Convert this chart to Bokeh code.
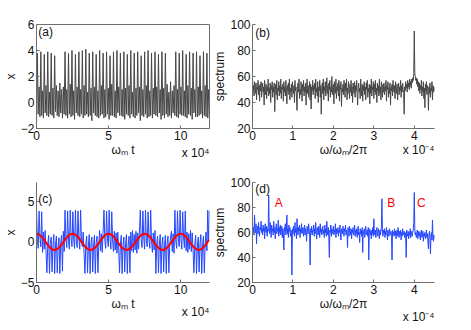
import numpy as np
from bokeh.plotting import figure
from bokeh.models import Range1d, Label, FixedTicker, Title
from bokeh.layouts import column, row
from bokeh.embed import file_html
from bokeh.resources import INLINE

# ---------------- data ----------------
# (a) time trace x(t), samples every 600 (omega_m t)
x_a = [-1.7,
       3.8, -0.9, 1.2, -1.1, 3.9, -1.0, 0.9, -1.2,
       3.7, -0.8, 1.3, -1.0, 3.9, -1.1, 0.8, -0.9,
       3.8, -1.0, 1.1, -1.2, 3.6, -0.7,
       1.3, -1.0, 0.9, -1.1, 1.5, -0.8, 1.0, -1.2, 1.2, -0.9,
       3.9, -1.0, 1.0, -1.2, 3.8, -0.9, 1.4, -1.1,
       4.0, -1.0, 0.9, -1.3, 3.7, -0.8, 1.2, -1.0,
       3.9, -1.1, 1.0, -0.9, 4.0, -1.2, 1.3, -1.0,
       4.1, -0.9, 0.8, -1.1, 3.8, -1.0, 1.1, -1.4,
       3.9, -0.8, 1.2, -1.0, 3.7, -1.1, 0.9, -1.2,
       4.0, -1.0, 1.3, -0.9, 3.8, -1.2, 1.0, -1.1,
       3.9, -0.9, 1.1, -1.3, 3.6, -1.0, 1.4, -1.0,
       3.9, -1.1, 0.9, -1.2, 4.0, -0.8, 1.2, -1.0,
       3.8, -1.0, 1.0, -1.1, 3.9, -1.3, 1.1, -0.9,
       3.7, -1.0, 1.3, -1.2, 4.0, -0.9, 0.8, -1.1,
       3.8, -1.2, 1.1, -1.0, 3.9, -0.8, 1.2, -1.4,
       3.6, -1.0, 1.0, -1.1, 3.9, -0.9, 1.3, -1.2,
       4.0, -1.1, 0.9, -1.0, 3.8, -1.2, 1.1, -0.9,
       3.9, -1.0, 1.2, -1.1, 3.7, -0.8, 1.0, -1.3,
       3.9, -1.0, 1.1, -1.2, 3.8,
       -0.9, 1.4, -1.1, 0.8, -1.0, 1.6, -1.2, 0.9, -0.8, 1.3, -1.0,
       3.9, -1.1, 1.0, -1.2, 3.8, -0.9, 1.2, -1.0,
       4.0, -1.0, 0.9, -1.1, 3.7, -1.2, 1.3, -0.9,
       3.9, -1.0, 1.1, -1.3, 3.8, -0.8, 1.0, -1.1,
       3.9, -1.1, 1.2, -1.0, 3.6, -0.9, 0.9, -1.2,
       3.9, -1.0, 1.3, -1.1, 3.8, -1.2, 1.0, -0.9]

# (c) driven time trace x(t), samples every 600
x_c = [3.9, 0.3, -0.8, 3.8, 0.5, -0.6, 3.7,
       -1.3, 1.2, -0.9, 1.4, -1.1,
       -3.8, -0.4, 0.8, -3.9, -0.2, 0.6, -3.7, -0.5, 0.9, -3.9, -0.3, 0.7, -3.8, -0.6, 0.5, -3.9, -0.1, 0.8, -3.6,
       1.3, -1.2,
       3.9, 0.4, -0.7, 3.8, 0.2, -0.9, 3.9, 0.5, -0.6, 3.7, 0.3, -0.8, 3.9, 0.1, -0.7, 3.8, 0.4, -0.9, 3.9, 0.2, -0.6,
       1.2, -1.4,
       -3.9, -0.3, 0.7, -3.8, -0.5, 0.9, -3.9, -0.2, 0.6, -3.7, -0.4, 0.8, -3.9, -0.1, 0.7, -3.8, -0.5,
       1.4, -1.1, 1.0, -1.3, 1.2,
       3.9, 0.2, -0.8, 3.8, 0.4, -0.6, 3.9, 0.3, -0.9, 3.7, 0.1,
       -1.2, 1.3, -1.0, 1.1, -1.4, 1.2, -0.9,
       -3.8, -0.3, 0.8, -3.9, -0.5, 0.6, -3.7, -0.2, 0.9, -3.9, -0.4, 0.7, -3.8,
       1.2, -1.1, 1.4, -1.3, 0.9, -1.0, 1.3, -1.4, 1.1, -0.9, 1.2,
       3.9, 0.3, -0.7, 3.8, 0.5, -0.9, 3.9, 0.2, -0.6, 3.7, 0.4, -0.8, 3.9, 0.1,
       -1.3, 1.1, -1.0, 1.4,
       -3.9, -0.2, 0.7, -3.8, -0.4, 0.9, -3.9, -0.3, 0.6, -3.7, -0.5, 0.8, -3.9, -0.1, 0.7, -3.8, -0.4, 0.6,
       1.3, -1.2, 1.0, -1.4,
       3.9, 0.2, -0.8, 3.8, 0.4, -0.6, 3.9, 0.3, -0.9, 3.7, 0.5, -0.7, 3.8,
       -1.1, 1.2, -1.3, 1.0, -0.9, 1.4, -1.2, 1.1, -1.0,
       -3.8, -0.3, 0.8, -3.9, -0.5, 0.6, -3.7, -0.2, 0.9, -3.9, -0.4, 0.7, -3.8, -0.3,
       1.2, -1.1,
       3.9, 0.3, 3.8]

# (c) red drive signal, samples every 1250
drive_c = [1.00, 0.95, 0.81, 0.59, 0.31, 0.00, -0.31, -0.59, -0.81, -0.95,
           -1.00, -0.95, -0.81, -0.59, -0.31, 0.00, 0.31, 0.59, 0.81, 0.95,
           1.00, 0.95, 0.81, 0.59, 0.31, 0.00, -0.31, -0.59, -0.81, -0.95,
           -1.00, -0.95, -0.81, -0.59, -0.31, 0.00, 0.31, 0.59, 0.81, 0.95,
           1.00, 0.95, 0.81, 0.59, 0.31, 0.00, -0.31, -0.59, -0.81, -0.95,
           -1.00, -0.95, -0.81, -0.59, -0.31, 0.00, 0.31, 0.59, 0.81, 0.95,
           1.00, 0.95, 0.81, 0.59, 0.31, 0.00, -0.31, -0.59, -0.81, -0.95,
           -1.00, -0.95, -0.81, -0.59, -0.31, 0.00, 0.31, 0.59, 0.81, 0.95,
           1.00, 0.95, 0.81, 0.59, 0.31, 0.00, -0.31, -0.59, -0.81, -0.95,
           -1.00, -0.95, -0.81, -0.59, -0.31, 0.00, 0.31]

# (b) spectrum of (a), samples every 0.0125e-4
spec_b = [58, 49, 53, 45, 56, 51, 47, 55, 42, 52, 50, 57, 46, 53, 41, 54, 49, 56, 44, 51,
          55, 48, 52, 38, 57, 50, 46, 54, 43, 52, 49, 58, 45, 51, 47, 55, 40, 53, 50, 56,
          44, 52, 48, 55, 33, 50, 54, 46, 57, 42, 51, 49, 56, 45, 53, 47, 58, 43, 52, 50,
          54, 41, 56, 48, 52, 45, 57, 50, 39, 53, 49, 55, 46, 58, 42, 51, 48, 54, 44, 56,
          50, 47, 53, 40, 57, 49, 52, 45, 34, 51, 55, 48, 58, 43, 50, 46, 56, 52, 41, 54,
          49, 57, 45, 52, 48, 55, 38, 51, 58, 47, 53, 44, 50, 56, 42, 54, 35, 52, 49, 57,
          46, 53, 50, 55, 43, 58, 48, 51, 45, 56, 40, 52, 49, 57, 44, 53, 31, 50, 55, 47,
          58, 42, 52, 49, 56, 45, 51, 59, 47, 53, 41, 55, 50, 57, 44, 52, 48, 60, 46, 51,
          54, 39, 56, 50, 47, 58, 43, 52, 49, 55, 45, 57, 41, 53, 50, 56, 37, 51, 48, 54,
          46, 57, 52, 44, 55, 49, 58, 42, 51, 47, 56, 50, 43, 54, 48, 57, 45, 52, 40, 55,
          50, 47, 56, 44, 53, 49, 57, 46, 38, 52, 55, 48, 51, 43, 58, 50, 45, 54, 41, 53,
          49, 56, 46, 52, 42, 55, 50, 57, 44, 51, 48, 54, 39, 53, 47, 58, 45, 52, 50, 56,
          43, 54, 48, 57, 46, 51, 40, 55, 49, 53, 45, 58, 47, 52, 42, 56, 50, 44, 54, 48,
          55, 46, 52, 49, 57, 41, 53, 50, 56, 44, 51, 47, 55, 38, 52, 49, 54, 45, 57, 50,
          48, 53, 43, 56, 50, 47, 54, 42, 51, 55, 46, 52, 49, 57, 44, 53, 48, 55, 50, 47,
          31, 52, 49, 56, 51, 54, 48, 57, 52, 55, 50, 58, 53, 56, 51, 58, 55, 59, 57, 62,
          95, 63, 60, 57, 59, 54, 58, 52, 56, 49, 55, 47, 53, 50, 57, 45, 52, 48, 56, 43,
          51, 36, 54, 49, 56, 46, 53, 50, 34, 52, 47, 55, 44, 51, 49, 56, 42, 53, 48, 52,
          49]

# (d) spectrum of (c), samples every 0.0125e-4
spec_d = [66, 61, 64, 58, 74, 63, 60, 67, 51, 62, 65, 59, 68, 61, 57, 64, 62, 69, 60, 63,
          58, 66, 61, 64, 55, 67, 62, 60, 65, 57, 63, 61, 90, 64, 59, 68, 62, 56, 66, 61,
          63, 58, 69, 60, 64, 55, 62, 67, 59, 63, 61, 70, 57, 64, 60, 66, 58, 62, 65, 56,
          63, 60, 46, 64, 61, 67, 58, 62, 74, 59, 63, 56, 66, 61, 64, 57, 62, 60, 26, 63,
          59, 65, 61, 57, 68, 60, 63, 55, 71, 62, 58, 64, 61, 66, 56, 63, 60, 67, 59, 62,
          64, 57, 61, 66, 58, 63, 60, 53, 65, 61, 59, 67, 62, 57, 34, 63, 60, 65, 58, 62,
          61, 66, 57, 63, 59, 68, 60, 55, 64, 61, 58, 65, 62, 56, 67, 60, 63, 58, 61, 65,
          59, 62, 56, 66, 60, 63, 57, 69, 61, 58, 64, 55, 40, 62, 60, 66, 57, 63, 59, 61,
          65, 58, 62, 60, 67, 56, 63, 59, 61, 64, 57, 62, 60, 66, 58, 54, 63, 61, 59, 65,
          60, 57, 63, 61, 66, 58, 62, 59, 48, 64, 60, 57, 65, 61, 58, 63, 55, 62, 60, 64,
          58, 61, 66, 57, 62, 59, 63, 56, 61, 65, 58, 60, 52, 63, 59, 62, 57, 64, 44, 61,
          59, 63, 56, 61, 65, 58, 60, 62, 57, 64, 38, 60, 63, 58, 61, 55, 62, 59, 64, 57,
          71, 60, 58, 62, 56, 61, 64, 59, 57, 63, 60, 55, 62, 58, 61, 64, 87, 60, 57, 62,
          59, 63, 56, 61, 58, 64, 60, 54, 62, 59, 57, 63, 60, 58, 61, 56, 38, 62, 59, 60,
          57, 63, 58, 61, 55, 60, 62, 57, 64, 59, 56, 61, 58, 62, 54, 60, 57, 63, 59, 58,
          61, 56, 60, 58, 40, 62, 57, 59, 61, 55, 60, 58, 63, 56, 59, 61, 57, 60, 62, 68,
          92, 64, 58, 60, 56, 59, 62, 55, 58, 61, 57, 60, 54, 59, 62, 56, 58, 61, 53, 59,
          57, 60, 55, 58, 62, 56, 59, 52, 47, 58, 61, 55, 43, 57, 60, 54, 70, 56, 53, 58,
          55]

t_a = np.arange(len(x_a)) * 600.0
t_c = np.arange(len(x_c)) * 600.0
t_drive = np.arange(len(drive_c)) * 1250.0
f_b = np.arange(len(spec_b)) * 0.0125e-4
f_d = np.arange(len(spec_d)) * 0.0125e-4

time_ticks = [0, 5e4, 10e4]
time_tick_labels = ["0", "5", "10"]
freq_ticks = [0, 1e-4, 2e-4, 3e-4, 4e-4]
freq_tick_labels = ["0", "1", "2", "3", "4"]
ya_ticks = [-2, 0, 2, 4, 6]
ya_tick_labels = ["\u22122", "0", "2", "4", "6"]
yc_ticks = [-5, 0, 5]
yc_tick_labels = ["\u22125", "0", "5"]
spec_ticks = [20, 40, 60, 80, 100]
spec_tick_labels = ["20", "40", "60", "80", "100"]

FONT = "Liberation Sans"
AXC = "#6e6e6e"
GRAY = "#474747"
BLUE = "#2446ff"
RED = "#ff0000"


def make_fig(w, h, xr, yr, bl, br, bt, bb, outline):
    p = figure(width=w, height=h, x_range=Range1d(*xr), y_range=Range1d(*yr),
               output_backend="svg", toolbar_location=None,
               min_border_left=bl, min_border_right=br,
               min_border_top=bt, min_border_bottom=bb)
    p.grid.visible = False
    p.background_fill_color = "white"
    p.border_fill_color = "white"
    p.outline_line_color = AXC if outline else None
    return p


def style_axes(p, xt, xtl, xlab, yt, ytl, ylab):
    p.xaxis.ticker = FixedTicker(ticks=xt)
    p.xaxis.major_label_overrides = {float(k): v for k, v in zip(xt, xtl)}
    p.yaxis.ticker = FixedTicker(ticks=yt)
    p.yaxis.major_label_overrides = {float(k): v for k, v in zip(yt, ytl)}
    p.xaxis.axis_label = xlab
    p.yaxis.axis_label = ylab
    for ax in list(p.xaxis) + list(p.yaxis):
        ax.axis_line_color = AXC
        ax.major_tick_line_color = AXC
        ax.major_tick_in = 3
        ax.major_tick_out = 0
        ax.minor_tick_line_color = None
        ax.major_label_text_font = FONT
        ax.major_label_text_font_size = "12px"
        ax.major_label_text_color = "#111111"
        ax.axis_label_text_font = FONT
        ax.axis_label_text_font_size = "12px"
        ax.axis_label_text_font_style = "normal"
        ax.axis_label_text_color = "#111111"
        ax.major_label_standoff = 2
        ax.axis_label_standoff = 0


def add_label(p, text, x, y, align="left", color="#111111", base="middle"):
    p.add_layout(Label(x=x, y=y, text=text,
                       text_font=FONT, text_font_size="12px", text_color=color,
                       text_align=align, text_baseline=base))


def add_multiplier(p, text, standoff):
    p.add_layout(Title(text=text, align="right", vertical_align="top",
                       standoff=standoff,
                       text_font=FONT, text_font_size="12px",
                       text_font_style="normal", text_color="#111111"), "below")


# (a)
pa = make_fig(210, 165, (0, 12e4), (-2, 6), 29, 1, 24, 37, True)
pa.line(t_a, x_a, line_color=GRAY, line_width=1)
style_axes(pa, time_ticks, time_tick_labels, "\u03c9\u2098 t", ya_ticks, ya_tick_labels, "x")
add_label(pa, "(a)", 0.12e4, 5.4)
add_multiplier(pa, "x 10\u2074", -28)

# (b)
pb = make_fig(230, 165, (0, 4.5e-4), (20, 100), 39, 6, 23, 37, False)
pb.line(f_b, spec_b, line_color=GRAY, line_width=1)
style_axes(pb, freq_ticks, freq_tick_labels, "\u03c9/\u03c9\u2098/2\u03c0", spec_ticks, spec_tick_labels, "spectrum")
add_label(pb, "(b)", 0.07e-4, 93.8)
add_multiplier(pb, "x 10\u207b\u2074", -34)

# (c)
pc = make_fig(210, 157, (0, 12e4), (-5, 7.3), 29, 1, 6, 40, False)
pc.line(t_c, x_c, line_color=BLUE, line_width=1)
pc.line(t_drive, drive_c, line_color=RED, line_width=2)
style_axes(pc, time_ticks, time_tick_labels, "\u03c9\u2098 t", yc_ticks, yc_tick_labels, "x")
add_label(pc, "(c)", 0.12e4, 5.3)
add_multiplier(pc, "x 10\u2074", -18)

# (d)
pd_ = make_fig(230, 157, (0, 4.5e-4), (20, 100), 39, 6, 17, 36, False)
pd_.line(f_d, spec_d, line_color=BLUE, line_width=1)
style_axes(pd_, freq_ticks, freq_tick_labels, "\u03c9/\u03c9\u2098/2\u03c0", spec_ticks, spec_tick_labels, "spectrum")
add_label(pd_, "(d)", 0.07e-4, 94.6)
add_label(pd_, "A", 0.55e-4, 84, color=RED)
add_label(pd_, "B", 3.33e-4, 84, color=RED)
add_label(pd_, "C", 4.07e-4, 84, color=RED)
add_multiplier(pd_, "x 10\u207b\u2074", -8)

layout = column(row(pa, pb), row(pc, pd_))
open("out.html", "w").write(file_html(layout, INLINE))
